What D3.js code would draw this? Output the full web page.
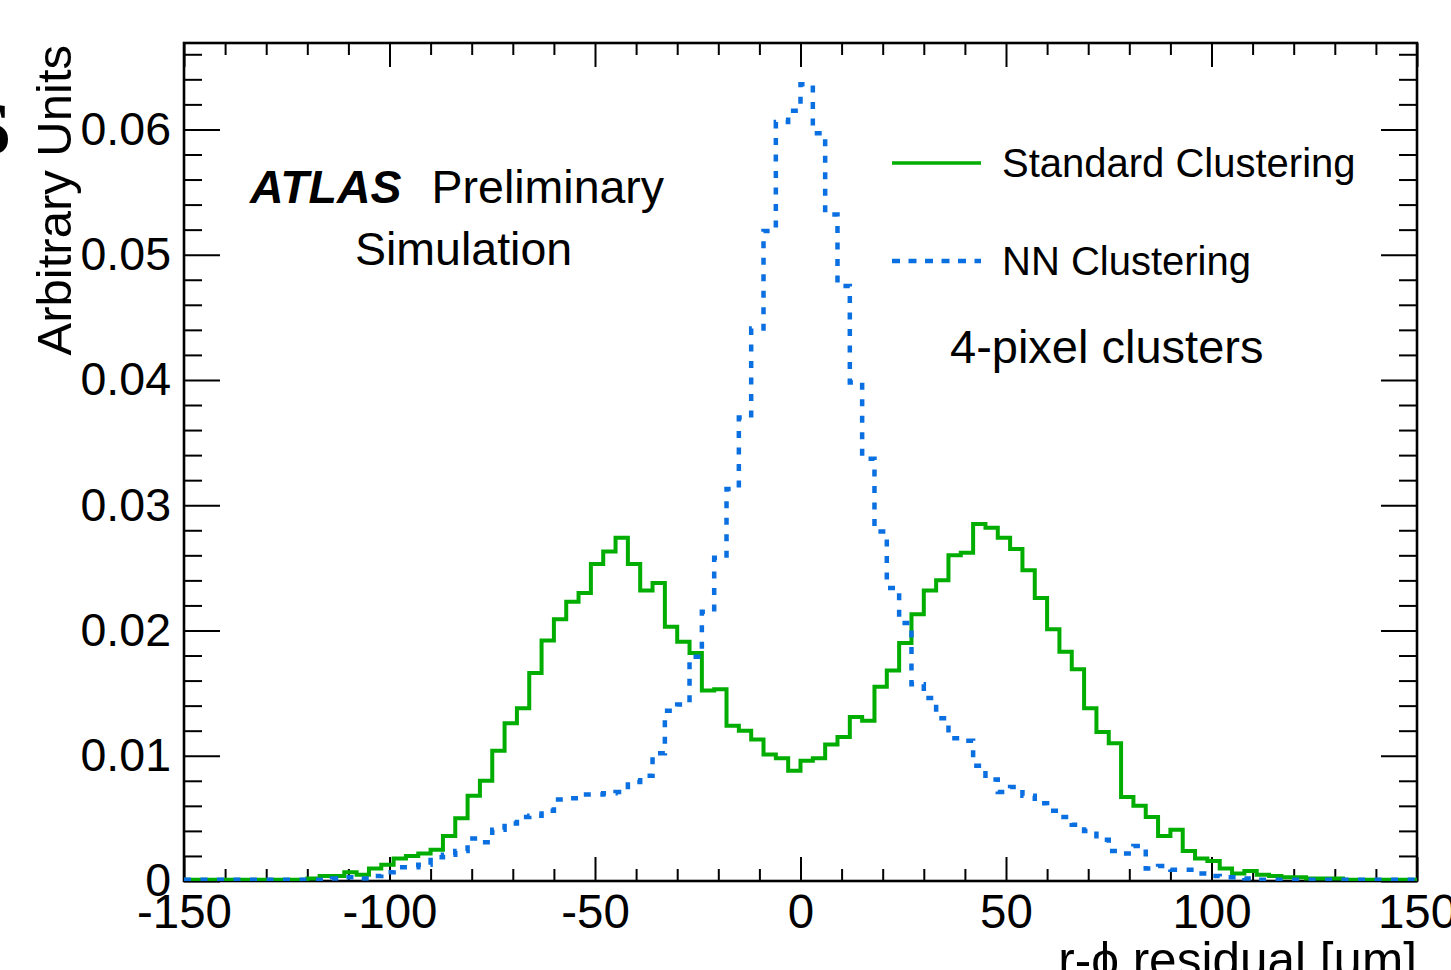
<!DOCTYPE html>
<html>
<head>
<meta charset="utf-8">
<script src="https://cdn.jsdelivr.net/npm/d3@7"></script>
<style>
  html, body { margin: 0; padding: 0; background: #fff; overflow: hidden; }
  svg { display: block; font-family: "Liberation Sans", Arial, sans-serif; }
</style>
</head>
<body>
<svg id="chart" width="1451" height="970"></svg>
<script>
// histogram binning: 100 bins of 3 um from -150 to 150
const xMin = -150;
const xMax = 150;
const binWidth = 3;

// Standard Clustering (green, solid)
const standard = [
  0.0001, 0.0001, 0.0001, 0.0001, 0.0001, 0.0001, 0.0001, 0.0001, 0.0001, 0.0001,
  0.0002, 0.0004, 0.0004, 0.0007, 0.0005, 0.0010, 0.0013, 0.0018, 0.0020, 0.0022,
  0.0025, 0.0036, 0.0050, 0.0068, 0.0080, 0.0104, 0.0126, 0.0138, 0.0166, 0.0192,
  0.0209, 0.0223, 0.0230, 0.0253, 0.0263, 0.0274, 0.0253, 0.0232, 0.0238, 0.0203,
  0.0191, 0.0182, 0.0152, 0.0153, 0.0124, 0.0120, 0.0113, 0.0101, 0.0098, 0.0088,
  0.0096, 0.0098, 0.0109, 0.0115, 0.0131, 0.0128, 0.0155, 0.0168, 0.0190, 0.0213,
  0.0232, 0.0240, 0.0260, 0.0262, 0.0285, 0.0282, 0.0274, 0.0265, 0.0248, 0.0226,
  0.0201, 0.0183, 0.0169, 0.0138, 0.0119, 0.0110, 0.0067, 0.0060, 0.0051, 0.0036,
  0.0041, 0.0024, 0.0018, 0.0016, 0.0010, 0.0006, 0.0008, 0.0005, 0.0004, 0.0003,
  0.0003, 0.0002, 0.0002, 0.0002, 0.0001, 0.0001, 0.0001, 0.0001, 0.0001, 0.0001
];

// NN Clustering (blue, dotted)
const nn = [
  0.0001, 0.0001, 0.0001, 0.0001, 0.0001, 0.0001, 0.0001, 0.0001, 0.0001, 0.0001,
  0.0001, 0.0001, 0.0002, 0.0003, 0.0002, 0.0004, 0.0007, 0.0011, 0.0011, 0.0013,
  0.0019, 0.0021, 0.0024, 0.0034, 0.0031, 0.0041, 0.0046, 0.0051, 0.0052, 0.0056,
  0.0065, 0.0066, 0.0069, 0.0069, 0.0070, 0.0071, 0.0079, 0.0084, 0.0102, 0.0136,
  0.0141, 0.0179, 0.0215, 0.0258, 0.0313, 0.0370, 0.0441, 0.0519, 0.0606, 0.0615,
  0.0636, 0.0597, 0.0532, 0.0475, 0.0398, 0.0337, 0.0279, 0.0234, 0.0206, 0.0157,
  0.0146, 0.0130, 0.0114, 0.0112, 0.0092, 0.0081, 0.0071, 0.0075, 0.0068, 0.0062,
  0.0056, 0.0051, 0.0045, 0.0040, 0.0033, 0.0024, 0.0022, 0.0028, 0.0010, 0.0012,
  0.0009, 0.0009, 0.0006, 0.0004, 0.0003, 0.0003, 0.0002, 0.0001, 0.0001, 0.0001,
  0.0001, 0.0001, 0.0001, 0.0001, 0.0001, 0.0001, 0.0001, 0.0001, 0.0001, 0.0001
];

const seriesNames = ["Standard Clustering", "NN Clustering"];
const xMajor = [-150, -100, -50, 0, 50, 100, 150];
const xLabels = ["-150", "-100", "-50", "0", "50", "100", "150"];
const xMinor = [-140, -130, -120, -110, -90, -80, -70, -60, -40, -30, -20, -10,
                10, 20, 30, 40, 60, 70, 80, 90, 110, 120, 130, 140];
const yMajor = [0, 0.01, 0.02, 0.03, 0.04, 0.05, 0.06];
const yLabels = ["0", "0.01", "0.02", "0.03", "0.04", "0.05", "0.06"];
const yMinor = [0.002, 0.004, 0.006, 0.008, 0.012, 0.014, 0.016, 0.018,
                0.022, 0.024, 0.026, 0.028, 0.032, 0.034, 0.036, 0.038,
                0.042, 0.044, 0.046, 0.048, 0.052, 0.054, 0.056, 0.058,
                0.062, 0.064, 0.066];

const svg = d3.select("#chart");
const frameL = 184, frameR = 1417, frameT = 43, frameB = 881;

const x = d3.scaleLinear().domain([xMin, xMax]).range([frameL, frameR]);
const y = d3.scaleLinear().domain([0, 0.0669]).range([frameB, frameT]);

const green = "#00ad00";
const blue = "#0a6fe0";

// tick marks on all four sides, pointing inward (ROOT style)
function axisGroup(axis, tx, ty) {
    const g = svg.append("g").attr("transform", `translate(${tx},${ty})`).call(axis);
    g.select(".domain").remove();
    g.selectAll(".tick line").attr("stroke", "#000").attr("stroke-width", 2);
    return g;
}

axisGroup(d3.axisBottom(x).tickValues(xMinor).tickSize(-12).tickFormat(""), 0, frameB);
axisGroup(d3.axisTop(x).tickValues(xMinor).tickSize(-12).tickFormat(""), 0, frameT);
axisGroup(d3.axisTop(x).tickValues(xMajor).tickSize(-24).tickFormat(""), 0, frameT);
const gxLab = axisGroup(d3.axisBottom(x).tickValues(xMajor).tickSize(-24).tickPadding(13)
    .tickFormat((d, i) => xLabels[i]), 0, frameB);
gxLab.selectAll("text").attr("font-size", 47.5).attr("fill", "#000")
    .attr("font-family", "Liberation Sans, Arial, sans-serif");

axisGroup(d3.axisLeft(y).tickValues(yMinor).tickSize(-18).tickFormat(""), frameL, 0);
axisGroup(d3.axisRight(y).tickValues(yMinor).tickSize(-18).tickFormat(""), frameR, 0);
axisGroup(d3.axisRight(y).tickValues(yMajor).tickSize(-36).tickFormat(""), frameR, 0);
const gyLab = axisGroup(d3.axisLeft(y).tickValues(yMajor).tickSize(-36).tickPadding(13)
    .tickFormat((d, i) => yLabels[i]), frameL, 0);
gyLab.selectAll("text").attr("font-size", 46.5).attr("fill", "#000")
    .attr("font-family", "Liberation Sans, Arial, sans-serif");

// frame
svg.append("rect")
    .attr("x", frameL).attr("y", frameT)
    .attr("width", frameR - frameL).attr("height", frameB - frameT)
    .attr("fill", "none").attr("stroke", "#000").attr("stroke-width", 2.6);

// histograms
svg.append("clipPath").attr("id", "frameClip")
    .append("rect").attr("x", frameL).attr("y", frameT - 2)
    .attr("width", frameR - frameL).attr("height", frameB - frameT + 2);

const stepLine = d3.line()
    .x(d => x(d[0]))
    .y(d => y(d[1]))
    .curve(d3.curveStepAfter);

function binPoints(values) {
    const pts = values.map((v, i) => [xMin + i * binWidth, v]);
    pts.push([xMax, values[values.length - 1]]);
    return pts;
}

const plot = svg.append("g").attr("clip-path", "url(#frameClip)");

plot.append("path")
    .datum(binPoints(standard))
    .attr("d", stepLine)
    .attr("fill", "none")
    .attr("stroke", green)
    .attr("stroke-width", 4);

plot.append("path")
    .datum(binPoints(nn))
    .attr("d", stepLine)
    .attr("fill", "none")
    .attr("stroke", blue)
    .attr("stroke-width", 4.5)
    .attr("stroke-dasharray", "7,9.5");

// legend
const legend = svg.append("g");
legend.append("line")
    .attr("x1", 892).attr("x2", 981).attr("y1", 163).attr("y2", 163)
    .attr("stroke", green).attr("stroke-width", 3.5);
legend.append("line")
    .attr("x1", 892).attr("x2", 981).attr("y1", 261).attr("y2", 261)
    .attr("stroke", blue).attr("stroke-width", 4.5).attr("stroke-dasharray", "8,8.5");
legend.append("text").attr("x", 1002).attr("y", 177).attr("font-size", 40).text(seriesNames[0]);
legend.append("text").attr("x", 1002).attr("y", 275).attr("font-size", 40).text(seriesNames[1]);

svg.append("text").attr("x", 950).attr("y", 363).attr("font-size", 47).text("4-pixel clusters");

// ATLAS label
const atlas = svg.append("text").attr("x", 250).attr("y", 203).attr("font-size", 46.5);
atlas.append("tspan").attr("font-weight", "bold").attr("font-style", "italic").text("ATLAS");
atlas.append("tspan").attr("dx", 30).text("Preliminary");
svg.append("text").attr("x", 355).attr("y", 265).attr("font-size", 46.5).text("Simulation");

// axis titles
svg.append("text")
    .attr("transform", "translate(71,45) rotate(-90)")
    .attr("text-anchor", "end")
    .attr("font-size", 49)
    .text("Arbitrary Units");

svg.append("text")
    .attr("x", frameR).attr("y", 977)
    .attr("text-anchor", "end")
    .attr("font-size", 49.5)
    .text("r-\u03d5 residual [\u03bcm]");

// fragment of a neighbouring figure's lettering at the left edge
svg.append("text")
    .attr("x", -30).attr("y", 154)
    .attr("font-family", "Liberation Serif, serif")
    .attr("font-weight", "bold")
    .attr("font-size", 74)
    .text("S");
</script>
</body>
</html>
